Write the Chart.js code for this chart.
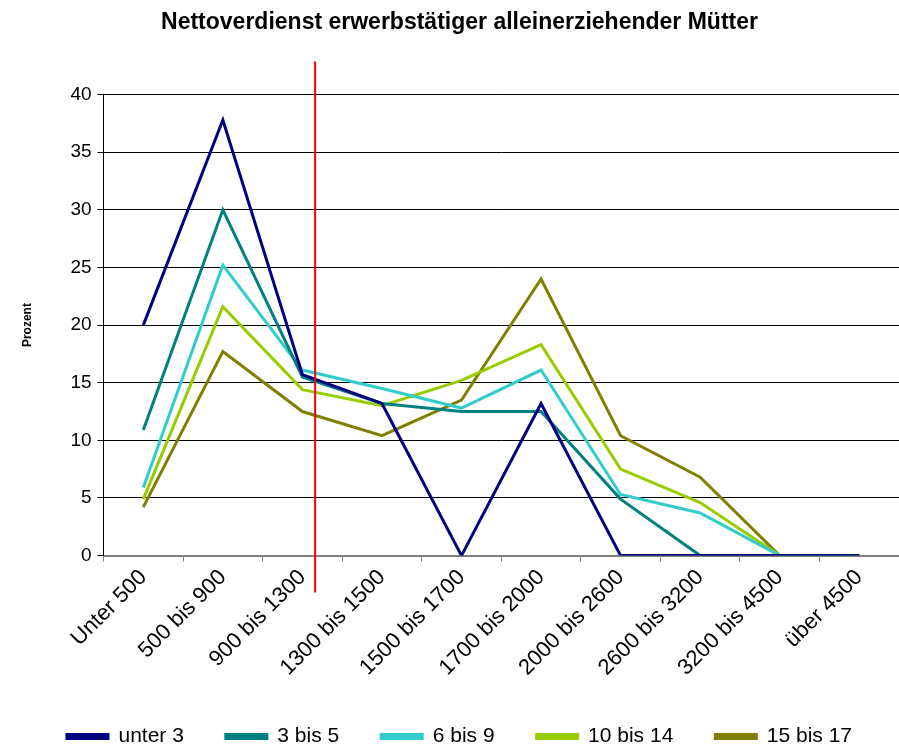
<!DOCTYPE html>
<html>
<head>
<meta charset="utf-8">
<script src="https://cdn.jsdelivr.net/npm/chart.js@4"></script>
<style>
  html, body { margin: 0; padding: 0; background: #fff; }
  #wrap { width: 899px; height: 747px; }
</style>
</head>
<body>
<div id="wrap"><canvas id="chart"></canvas></div>
<script>
const categories = ["Unter 500", "500 bis 900", "900 bis 1300", "1300 bis 1500", "1500 bis 1700",
    "1700 bis 2000", "2000 bis 2600", "2600 bis 3200", "3200 bis 4500", "über 4500"];

const unter3 = [20, 37.8, 15.7, 13.2, 0, 13.2, 0, 0, 0, 0];
const bis5 = [10.9, 30, 15.5, 13.2, 12.5, 12.5, 4.9, 0, 0, 0];
const bis9 = [5.9, 25.2, 16.1, 14.5, 12.8, 16.1, 5.3, 3.7, 0, 0];
const bis14 = [4.9, 21.6, 14.4, 13.0, 15.2, 18.3, 7.5, 4.6, 0, 0];
const bis17 = [4.2, 17.7, 12.5, 10.4, 13.5, 24.0, 10.4, 6.8, 0, 0];

// the red marker sits a bit to the right of "900 bis 1300"
const markerIndex = 2.16;

function series(label, data, color) {
    return {
        label: label,
        data: data,
        borderColor: color,
        backgroundColor: color,
        borderWidth: 3,
        pointRadius: 0,
        tension: 0
    };
}

const redLine = {
    id: "redLine",
    afterDatasetsDraw(chart) {
        const x = chart.scales.x;
        const step = x.getPixelForValue(1) - x.getPixelForValue(0);
        const px = x.getPixelForValue(2) + (markerIndex - 2) * step;
        const area = chart.chartArea;
        const ctx = chart.ctx;
        ctx.save();
        ctx.strokeStyle = "#ff0000";
        ctx.lineWidth = 2;
        ctx.beginPath();
        ctx.moveTo(px, area.top - 33);
        ctx.lineTo(px, area.bottom + 37);
        ctx.stroke();
        ctx.restore();
    }
};

new Chart("chart", {
    type: "line",
    data: {
        labels: categories,
        datasets: [
            series("unter 3", unter3, "#000080"),
            series("3 bis 5", bis5, "#008080"),
            series("6 bis 9", bis9, "#33cccc"),
            series("10 bis 14", bis14, "#99cc00"),
            series("15 bis 17", bis17, "#808000")
        ]
    },
    options: {
        responsive: true,
        maintainAspectRatio: false,
        animation: false,
        layout: { padding: { left: 20, right: 0, top: 8, bottom: -10 } },
        plugins: {
            title: {
                display: true,
                text: "Nettoverdienst erwerbstätiger alleinerziehender Mütter",
                color: "#000",
                font: { family: "Liberation Sans", size: 23, weight: "bold" },
                padding: { top: 1, bottom: 58 }
            },
            legend: {
                position: "bottom",
                labels: {
                    color: "#000",
                    font: { family: "Liberation Sans", size: 21 },
                    boxWidth: 41,
                    boxHeight: 4,
                    padding: 42
                }
            },
            tooltip: { enabled: false }
        },
        scales: {
            x: {
                offset: true,
                grid: {
                    offset: true,
                    drawOnChartArea: false,
                    color: "#808080",
                    tickLength: 6
                },
                border: { color: "#808080", width: 2 },
                ticks: {
                    color: "#000",
                    font: { family: "Liberation Sans", size: 22 },
                    maxRotation: 45,
                    minRotation: 45,
                    autoSkip: false
                }
            },
            y: {
                min: 0,
                max: 40,
                grid: { color: "#000", tickLength: 6 },
                border: { color: "#000", width: 1 },
                ticks: {
                    stepSize: 5,
                    color: "#000",
                    font: { family: "Liberation Sans", size: 19 },
                    padding: 6
                },
                title: {
                    display: true,
                    text: "Prozent",
                    color: "#000",
                    font: { family: "Liberation Sans", size: 12, weight: "bold" },
                    padding: { top: 0, bottom: 30 }
                }
            }
        }
    },
    plugins: [redLine]
});
</script>
</body>
</html>
